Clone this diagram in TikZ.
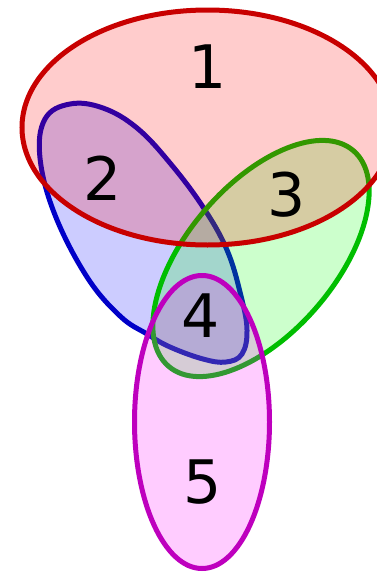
\documentclass[tikz,border=0pt]{standalone}
\usepackage{fontspec}
\setmainfont{DejaVu Sans}
\definecolor{sred}{RGB}{200,0,0}
\definecolor{sblue}{RGB}{0,0,200}
\definecolor{sgreen}{RGB}{0,190,0}
\definecolor{smag}{RGB}{190,0,190}
\definecolor{fred}{RGB}{255,0,0}
\definecolor{fblue}{RGB}{0,0,255}
\definecolor{fgreen}{RGB}{0,255,0}
\definecolor{fmag}{RGB}{255,0,255}
\begin{document}
\begin{tikzpicture}[x=1pt,y=-1pt,
  setshape/.style={line width=5pt, fill opacity=0.2, draw opacity=1},
  lbl/.style={inner sep=0pt, text=black, font=\fontsize{60}{72}\selectfont}]
\useasboundingbox (0,0) rectangle (376,573);
% set 2 (blue)
\draw[setshape, draw=sblue, fill=fblue]
  plot[smooth cycle, tension=0.65] coordinates {
  (70,104) (103,108) (137,128) (170,163) (203,207) (227,250) (241,296)
  (247,330) (242,354) (226,362) (203,359) (170,347) (147,334) (120,316)
  (87,277) (55,215) (40,158) (45,119)};
% set 3 (green)
\draw[setshape, draw=sgreen, fill=fgreen, rotate around={49.4:(261,258.5)}]
  (261,258.5) ellipse [x radius=142pt, y radius=74pt];
% set 5 (magenta)
\draw[setshape, draw=smag, fill=fmag]
  (202,422) ellipse [x radius=67.5pt, y radius=146.5pt];
% set 1 (red)
\draw[setshape, draw=sred, fill=fred]
  (207.5,127.5) ellipse [x radius=185.5pt, y radius=117.5pt];
\node[lbl] (l1) at (208,67) {1};
\node[lbl] (l2) at (103,178) {2};
\node[lbl] (l3) at (287,195) {3};
\node[lbl] (l4) at (201,316) {4};
\node[lbl] (l5) at (203,482) {5};
\end{tikzpicture}
\end{document}
